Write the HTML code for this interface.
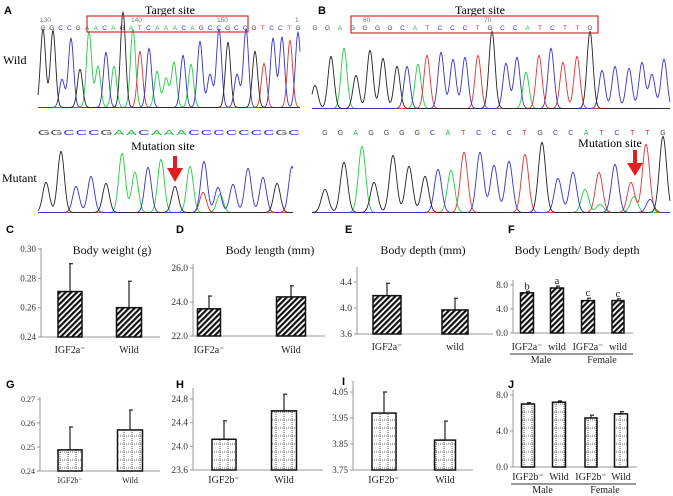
<!DOCTYPE html>
<html><head><meta charset="utf-8">
<style>
html,body{margin:0;padding:0;background:#fff;}
svg{display:block;font-family:"Liberation Serif",serif;}
.pl{font-family:"Liberation Sans",sans-serif;font-weight:bold;font-size:11px;}
</style></head>
<body>
<svg id="fig" width="673" height="496" viewBox="0 0 673 496">
<defs>
<pattern id="hatch" width="4" height="4" patternUnits="userSpaceOnUse" patternTransform="rotate(45)">
<rect width="4" height="4" fill="#fff"/><rect width="2.2" height="4" fill="#111"/></pattern>
<pattern id="grid" width="8" height="8" patternUnits="userSpaceOnUse">
<rect width="8" height="8" fill="#fff"/><path d="M4 0V8M0 4H8" stroke="#333" stroke-width="0.8" stroke-dasharray="1 1"/></pattern>
</defs>
<g id="chrom"></g>
<g id="charts"></g>

<text class="pl" x="4" y="14">A</text>
<text class="pl" x="318" y="14">B</text>
<text class="pl" x="6" y="233">C</text>
<text class="pl" x="176" y="233">D</text>
<text class="pl" x="345" y="233">E</text>
<text class="pl" x="508" y="233">F</text>
<text class="pl" x="6" y="388">G</text>
<text class="pl" x="176" y="388">H</text>
<text class="pl" x="342" y="385">I</text>
<text class="pl" x="508" y="388">J</text>

<text x="170" y="14" font-size="12" text-anchor="middle">Target site</text>
<text x="480" y="14" font-size="12" text-anchor="middle">Target site</text>
<rect x="87" y="16" width="161" height="16" fill="none" stroke="#d03030" stroke-width="1.2"/>
<rect x="351" y="16" width="247" height="17" fill="none" stroke="#d03030" stroke-width="1.2"/>
<g font-size="6.5" fill="#777" font-family="Liberation Sans,sans-serif">
<text x="40" y="22">130</text><text x="131" y="22">140</text><text x="217" y="22">150</text><text x="295" y="22">1</text>
<text x="363" y="22">60</text><text x="484" y="22">70</text>
</g>
<text x="3" y="64" font-size="12">Wild</text>
<text x="2" y="182" font-size="12">Mutant</text>
<text x="163" y="150" font-size="12" text-anchor="middle">Mutation site</text>
<text x="610" y="147" font-size="12" text-anchor="middle">Mutation site</text>
<g fill="#e02020">
<rect x="173" y="156" width="4" height="14"/><polygon points="167,168 183,168 175,182"/>
<rect x="633" y="150" width="4" height="15"/><polygon points="627,163 643,163 635,176"/>
</g>
</svg>

<script>
// ---------- chromatogram data ----------
const seqAWild = "GGCCGAACAGATCAAACAGCCGCCGTCCTG";
const seqAMut = "GGCCCGAACAAACCCCCCCGC";
const seqBWild = "GGAGGGGCATCCCTGCCATCTTG";
const seqBMut = "GGAGGGGCATCCCTGCCATCTTG";
const peaksAWildX = [43,53,62,71,80,89,98,106,114,123,133,140,149,157,166,174,183,191,200,210,219,228,237,246,255,264,273,282,290,298];
const peaksAWildY = [30,31,80,39,70,32,67,53,67,13,30,52,49,72,79,63,56,65,42,75,30,43,75,30,52,64,39,38,41,33];
const peaksAWildC = "kkbbkggbgkgrbgggbgbbbkbbkrbbrb";
const peaksAMutX = [46,61,76,91,106,122,135,148,161,175,190,204,218,233,248,263,277,292,203,220];
const peaksAMutY = [183,152,187,177,184,154,173,168,160,187,167,162,188,185,169,178,184,167,193,195];
const peaksAMutC = "kkbbkggbgkgbbbbbkbrg";
const peaksBWildX = [315,331,344,356,370,383,397,407,418,427,441,453,465,478,492,506,517,526,539,551,563,577,590,602,615,629,642,652,664];
const peaksBWildY = [86,57,49,76,51,59,67,67,65,56,53,60,58,56,32,64,58,73,56,49,63,57,32,71,67,69,63,75,60];
const peaksBWildC = "kkgkkkkbgrbbbrkbbgrbrrkbbbbbb";
const peaksBMutX = [325,344,362,374,393,409,425,438,451,464,480,494,509,525,542,558,573,585,599,615,631,646,663,634,650,600];
const peaksBMutY = [190,163,147,183,156,167,177,170,171,153,153,166,162,155,143,179,173,190,173,165,183,145,137,197,200,205];
const peaksBMutC = "kkgkkkkbgrbbbrkbbgrbrrkgbg";

const NS = "http://www.w3.org/2000/svg";
const COL = {k:"#222", b:"#3333cc", g:"#22cc44", r:"#dd3333"};
const SCOL = {G:"#444", A:"#22bb44", C:"#3333cc", T:"#dd3333"};
function mk(tag, attrs, parent){const e=document.createElementNS(NS,tag);for(const k in attrs)e.setAttribute(k,attrs[k]);parent.appendChild(e);return e;}
const chrom=document.getElementById('chrom');

function trace(xs, ys, cs, base, x0, x1, sig, name){
  const g=mk('g',{},chrom);
  
  
  ['g','r','b','k'].forEach(col=>{
    let d="";
    for(let x=x0;x<=x1;x+=0.5){
      let v=0;
      for(let i=0;i<xs.length;i++){ if(cs[i]!==col) continue; const h=base-ys[i]; v+=h*Math.exp(-((x-xs[i])**2)/(2*sig*sig)); }
      v+=0.6;
      d+=(d?"L":"M")+x.toFixed(1)+" "+(base-v).toFixed(1);
    }
    const p=mk('path',{d:d,fill:"none",stroke:COL[col],"stroke-width":"0.9"},g);
    
    
  });
}
trace(peaksAWildX,peaksAWildY,peaksAWildC,108,38,300,2.6,'trace-a-wild');
trace(peaksAMutX,peaksAMutY,peaksAMutC,213,38,293,3.3,'trace-a-mutant');
trace(peaksBWildX,peaksBWildY,peaksBWildC,109,312,670,3.0,'trace-b-wild');
trace(peaksBMutX,peaksBMutY,peaksBMutC,213,312,670,3.6,'trace-b-mutant');

function seqText(seq,x0,x1,y,size,name,stretch){
  const g=mk('g',{"font-family":"Liberation Sans,sans-serif","font-size":size},chrom);
  
  
  const n=seq.length;
  for(let i=0;i<n;i++){
    const px=x0+(x1-x0)*i/(n-1);
    const t=mk('text',{x:px.toFixed(1),y:y,"text-anchor":"middle",fill:SCOL[seq[i]]},g);
    if(stretch) t.setAttribute('transform',`translate(${px*(1-stretch)} 0) scale(${stretch} 1)`);
    t.textContent=seq[i];
  }
}
seqText(seqAWild,43,298,30,6.5,'sequence-a-wild');
seqText(seqAMut,44,294,135,7.5,'sequence-a-mutant',2.1);
seqText(seqBWild,315,590,30,6.5,'sequence-b-wild');
seqText(seqBMut,325,663,135,7,'sequence-b-mutant');

// ---------- bar chart data ----------
const catsC = ["IGF2a\u207B","Wild"];  const valsC=[0.271,0.260]; const errC=[0.019,0.018];
const ticksC=[0.24,0.26,0.28,0.30]; const tickLblC=["0.24","0.26","0.28","0.30"];
const catsD = ["IGF2a\u207B","Wild"];  const valsD=[23.6,24.3]; const errD=[0.75,0.65];
const ticksD=[22,24,26]; const tickLblD=["22.0","24.0","26.0"];
const catsE = ["IGF2a\u207B","wild"];  const valsE=[4.19,3.97]; const errE=[0.19,0.18];
const ticksE=[3.6,4.0,4.4]; const tickLblE=["3.6","4.0","4.4"];
const catsF = ["IGF2a\u207B","wild","IGF2a\u207B","wild"]; const valsF=[6.7,7.5,5.4,5.4]; const errF=[0.25,0.3,0.4,0.3];
const sigF=["b","a","c","c"]; const ticksF=[0,4,8]; const tickLblF=["0.0","4.0","8.0"];
const catsG = ["IGF2b\u207B","Wild"];  const valsG=[0.2488,0.2571]; const errG=[0.0095,0.0083];
const ticksG=[0.24,0.25,0.26,0.27]; const tickLblG=["0.24","0.25","0.26","0.27"];
const catsH = ["IGF2b\u207B","Wild"];  const valsH=[24.12,24.6]; const errH=[0.31,0.28];
const ticksH=[23.6,24.0,24.4,24.8]; const tickLblH=["23.6","24.0","24.4","24.8"];
const catsI = ["IGF2b\u207B","Wild"];  const valsI=[3.969,3.865]; const errI=[0.081,0.073];
const ticksI=[3.75,3.85,3.95,4.05]; const tickLblI=["3.75","3.85","3.95","4.05"];
const catsJ = ["IGF2b\u207B","Wild","IGF2b\u207B","Wild"]; const valsJ=[7.0,7.2,5.45,5.9]; const errJ=[0.15,0.15,0.3,0.25];
const ticksJ=[0,4,8]; const tickLblJ=["0.0","4.0","8.0"];

const charts=document.getElementById('charts');
function barChart(L, cats, vals, errs, ticks, lbls, sig){
  const g=mk('g',{},charts);
  
  
  const y=v=>L.yB-(v-L.min)/(L.max-L.min)*(L.yB-L.yT);
  const bottom=y(L.min);
  const ya=mk('line',{x1:L.ax,x2:L.ax,y1:L.axTop,y2:bottom,stroke:"#999","stroke-width":"1"},g);
  
  
  const xa=mk('line',{x1:L.ax,x2:L.axR,y1:bottom,y2:bottom,stroke:"#999","stroke-width":"1"},g);
  
  
  ticks.forEach((t,i)=>{
    const tk=mk('line',{x1:L.ax-3,x2:L.ax,y1:y(t),y2:y(t),stroke:"#999"},g);
    
    
    const tl=mk('text',{x:L.ax-5,y:y(t)+3,"font-size":L.tf||9.5,"text-anchor":"end",fill:"#333"},g);
    
    
    tl.textContent=lbls[i];
  });
  vals.forEach((v,i)=>{
    const cx=L.cx[i], w=L.bw[i];
    const eb=mk('line',{x1:cx,x2:cx,y1:y(v+errs[i]),y2:y(v),stroke:"#333","stroke-width":"1.3"},g);
    
    
    const ec=mk('line',{x1:cx-1,x2:cx+3,y1:y(v+errs[i]),y2:y(v+errs[i]),stroke:"#333","stroke-width":"1.3"},g);
    
    
    const b=mk('rect',{x:cx-w/2,y:y(v),width:w,height:bottom-y(v),fill:`url(#${L.pat})`,stroke:"#111","stroke-width":"1.5"},g);
    
    
    const xl=mk('text',{x:cx,y:L.ly,"font-size":L.lf||10,"text-anchor":"middle",fill:"#222"},g);
    
    
    xl.textContent=cats[i];
    if(sig){
      const s=mk('text',{x:cx,y:y(v+errs[i])-2,"font-size":11,"text-anchor":"middle",fill:"#222"},g);
      
      
      s.textContent=sig[i];
    }
  });
  if(L.title){
    const t=mk('text',{x:L.tx,y:L.ty,"font-size":12,"text-anchor":"middle",fill:"#111"},g);
    
    
    t.textContent=L.title;
  }
  if(L.groups){
    [["Male",0,1],["Female",2,3]].forEach(([nm,a,b])=>{
      const x1=L.cx[a]-17,x2=L.cx[b]+15;
      const ln=mk('line',{x1:x1,x2:x2,y1:L.gy,y2:L.gy,stroke:"#333","stroke-width":"1"},g);
      
      
      const gt=mk('text',{x:(x1+x2)/2,y:L.gy+9,"font-size":10,"text-anchor":"middle",fill:"#222"},g);
      
      
      gt.textContent=nm;
    });
  }
}
barChart({name:"chart-c-body-weight",ax:41,axR:160,axTop:248,yT:249,yB:337,min:0.24,max:0.30,cx:[70,129],bw:[24,25],pat:"hatch",ly:353,tf:9,title:"Body weight (g)",tx:112,ty:254},catsC,valsC,errC,ticksC,tickLblC);
barChart({name:"chart-d-body-length",ax:193,axR:325,axTop:264,yT:268,yB:336,min:22,max:26,cx:[209,291],bw:[23,29],pat:"hatch",ly:353,title:"Body length (mm)",tx:270,ty:254},catsD,valsD,errD,ticksD,tickLblD);
barChart({name:"chart-e-body-depth",ax:357,axR:493,axTop:267,yT:282,yB:334,min:3.6,max:4.4,cx:[387,455],bw:[28,26],pat:"hatch",ly:350,title:"Body depth (mm)",tx:423,ty:254},catsE,valsE,errE,ticksE,tickLblE);
barChart({name:"chart-f-length-depth-ratio",ax:513,axR:633,axTop:280,yT:285,yB:333,min:0,max:8,cx:[527,557,588,618],bw:[13,13,13,12],pat:"hatch",ly:350,lf:10,title:"Body Length/ Body depth",tx:577,ty:254,groups:true,gy:354},catsF,valsF,errF,ticksF,tickLblF,sigF);
barChart({name:"chart-g-body-weight",ax:40,axR:160,axTop:397,yT:399,yB:471,min:0.24,max:0.27,cx:[70,130],bw:[24,25],pat:"grid",ly:483,lf:8,tf:8},catsG,valsG,errG,ticksG,tickLblG);
barChart({name:"chart-h-body-length",ax:193,axR:323,axTop:388,yT:399,yB:470,min:23.6,max:24.8,cx:[224,284],bw:[24,25],pat:"grid",ly:483},catsH,valsH,errH,ticksH,tickLblH);
barChart({name:"chart-i-body-depth",ax:353,axR:473,axTop:381,yT:392,yB:470,min:3.75,max:4.05,cx:[384,445],bw:[24,21],pat:"grid",ly:483,tf:9},catsI,valsI,errI,ticksI,tickLblI);
barChart({name:"chart-j-length-depth-ratio",ax:513,axR:637,axTop:390,yT:395,yB:467,min:0,max:8,cx:[528,559,591,621],bw:[13,13,12,13],pat:"grid",ly:480,lf:10,groups:true,gy:484},catsJ,valsJ,errJ,ticksJ,tickLblJ);
</script>
</body></html>
